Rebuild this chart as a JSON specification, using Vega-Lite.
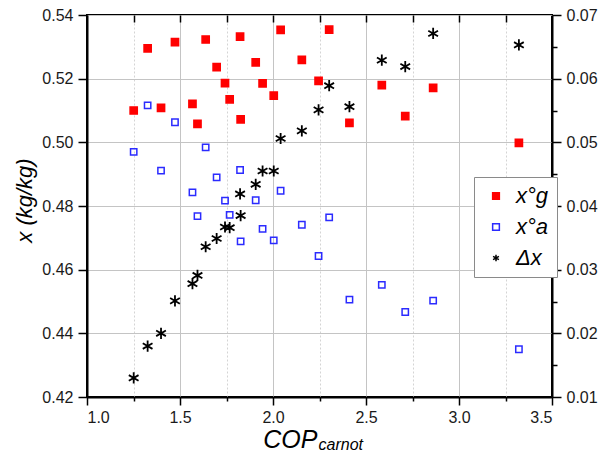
{
  "$schema": "https://vega.github.io/schema/vega-lite/v6.json",
  "width": 465,
  "height": 382,
  "autosize": {"type": "none"},
  "padding": {"left": 87, "top": 15, "right": 63, "bottom": 56},
  "background": "white",
  "config": {
    "font": "Liberation Sans",
    "view": {"stroke": "#000000", "strokeWidth": 2},
    "axis": {
      "labelFont": "Liberation Sans",
      "labelFontSize": 16,
      "labelColor": "#1a1a1a",
      "titleFont": "Liberation Sans",
      "titleColor": "#000000",
      "titleFontWeight": "normal",
      "titleFontStyle": "italic",
      "domainColor": "#000000",
      "domainWidth": 2,
      "tickColor": "#000000",
      "tickWidth": 1.5
    }
  },
  "data": {
    "values": [
      {"cop": 1.251, "xg": 0.5100, "xa": 0.4970, "dx": 0.0130},
      {"cop": 1.326, "xg": 0.5295, "xa": 0.5116, "dx": 0.0180},
      {"cop": 1.398, "xg": 0.5108, "xa": 0.4911, "dx": 0.0200},
      {"cop": 1.473, "xg": 0.5315, "xa": 0.5063, "dx": 0.0251},
      {"cop": 1.567, "xg": 0.5121, "xa": 0.4843, "dx": 0.0278},
      {"cop": 1.594, "xg": 0.5058, "xa": 0.4768, "dx": 0.0291},
      {"cop": 1.638, "xg": 0.5323, "xa": 0.4984, "dx": 0.0336},
      {"cop": 1.697, "xg": 0.5236, "xa": 0.4890, "dx": 0.0349},
      {"cop": 1.742, "xg": 0.5186, "xa": 0.4817, "dx": 0.0367},
      {"cop": 1.767, "xg": 0.5135, "xa": 0.4772, "dx": 0.0366},
      {"cop": 1.823, "xg": 0.5332, "xa": 0.4913, "dx": 0.0419},
      {"cop": 1.826, "xg": 0.5072, "xa": 0.4689, "dx": 0.0385},
      {"cop": 1.907, "xg": 0.5251, "xa": 0.4818, "dx": 0.0434},
      {"cop": 1.944, "xg": 0.5185, "xa": 0.4728, "dx": 0.0455},
      {"cop": 2.004, "xg": 0.5147, "xa": 0.4692, "dx": 0.0455},
      {"cop": 2.041, "xg": 0.5353, "xa": 0.4848, "dx": 0.0506},
      {"cop": 2.155, "xg": 0.5259, "xa": 0.4741, "dx": 0.0518},
      {"cop": 2.245, "xg": 0.5193, "xa": 0.4643, "dx": 0.0551},
      {"cop": 2.302, "xg": 0.5354, "xa": 0.4764, "dx": 0.0589},
      {"cop": 2.411, "xg": 0.5061, "xa": 0.4506, "dx": 0.0556},
      {"cop": 2.585, "xg": 0.5180, "xa": 0.4552, "dx": 0.0629},
      {"cop": 2.711, "xg": 0.5082, "xa": 0.4467, "dx": 0.0619},
      {"cop": 2.861, "xg": 0.5171, "xa": 0.4503, "dx": 0.0671},
      {"cop": 3.322, "xg": 0.4998, "xa": 0.4350, "dx": 0.0653}
    ]
  },
  "layer": [
    {
      "layer": [
        {
          "mark": {"type": "point", "size": 52, "strokeWidth": 1.5, "opacity": 1},
          "encoding": {
            "x": {
              "field": "cop",
              "type": "quantitative",
              "scale": {"domain": [1, 3.5], "nice": false, "zero": false},
              "axis": {
                "orient": "bottom",
                "values": [1, 1.25, 1.5, 1.75, 2, 2.25, 2.5, 2.75, 3, 3.25, 3.5],
                "labelExpr": "abs(datum.value * 2 - round(datum.value * 2)) > 0.01 ? '' : format(datum.value, '.1f')",
                "labelPadding": 4,
                "tickSize": {"condition": {"test": "abs(datum.value * 2 - round(datum.value * 2)) > 0.01", "value": 4}, "value": 8},
                "grid": true,
                "gridColor": {"condition": {"test": "abs(datum.value * 2 - round(datum.value * 2)) > 0.01", "value": "#d4d4d4"}, "value": "#c4c4c4"},
                "gridDash": {"condition": {"test": "abs(datum.value * 2 - round(datum.value * 2)) > 0.01", "value": [2, 2]}, "value": []},
                "gridWidth": 1,
                "title": "COP",
                "titleFontSize": 25,
                "titleAlign": "right",
                "titleBaseline": "alphabetic",
                "titleX": 230,
                "titleY": 50
              }
            },
            "y": {
              "field": "xg",
              "type": "quantitative",
              "scale": {"domain": [0.42, 0.54], "nice": false, "zero": false},
              "axis": {
                "orient": "left",
                "values": [0.42, 0.43, 0.44, 0.45, 0.46, 0.47, 0.48, 0.49, 0.5, 0.51, 0.52, 0.53, 0.54],
                "labelExpr": "abs(datum.value * 50 - round(datum.value * 50)) > 0.01 ? '' : format(datum.value, '.2f')",
                "labelPadding": 5,
                "tickSize": {"condition": {"test": "abs(datum.value * 50 - round(datum.value * 50)) > 0.01", "value": 5}, "value": 9},
                "grid": true,
                "gridColor": {"condition": {"test": "abs(datum.value * 50 - round(datum.value * 50)) > 0.01", "value": "#d4d4d4"}, "value": "#c4c4c4"},
                "gridDash": {"condition": {"test": "abs(datum.value * 50 - round(datum.value * 50)) > 0.01", "value": [2, 2]}, "value": []},
                "gridWidth": 1,
                "title": "x (kg/kg)",
                "titleFontSize": 22,
                "titleAngle": -90,
                "titleAlign": "center",
                "titleBaseline": "middle",
                "titleX": -63,
                "titleY": 185
              }
            },
            "fill": {"datum": "xg", "type": "nominal"},
            "stroke": {"datum": "xg", "type": "nominal"},
            "shape": {"datum": "xg", "type": "nominal"}
          }
        },
        {
          "mark": {"type": "point", "size": 40, "strokeWidth": 1.5, "opacity": 1},
          "encoding": {
            "x": {
              "field": "cop",
              "type": "quantitative",
              "axis": {
                "orient": "top",
                "values": [1.25, 1.5, 1.75, 2, 2.25, 2.5, 2.75, 3, 3.25],
                "domain": false,
                "labels": false,
                "grid": false,
                "tickSize": -7,
                "title": null
              }
            },
            "y": {"field": "xa", "type": "quantitative"},
            "fill": {"datum": "xa", "type": "nominal"},
            "stroke": {"datum": "xa", "type": "nominal"},
            "shape": {"datum": "xa", "type": "nominal"}
          }
        }
      ],
      "resolve": {"axis": {"x": "independent"}}
    },
    {
      "mark": {"type": "point", "size": 125, "strokeWidth": 1.8, "opacity": 1},
      "encoding": {
        "x": {
          "field": "cop",
          "type": "quantitative",
          "axis": {
            "orient": "bottom",
            "domain": false,
            "ticks": false,
            "labels": false,
            "grid": false,
            "title": "carnot",
            "titleFontSize": 16,
            "titleAlign": "left",
            "titleBaseline": "alphabetic",
            "titleX": 231,
            "titleY": 52
          }
        },
        "y": {
          "field": "dx",
          "type": "quantitative",
          "scale": {"domain": [0.01, 0.07], "nice": false, "zero": false},
          "axis": {
            "orient": "right",
            "values": [0.01, 0.015, 0.02, 0.025, 0.03, 0.035, 0.04, 0.045, 0.05, 0.055, 0.06, 0.065, 0.07],
            "labelExpr": "abs(datum.value * 100 - round(datum.value * 100)) > 0.01 ? '' : format(datum.value, '.2f')",
            "labelPadding": 5,
            "tickSize": {"condition": {"test": "abs(datum.value * 100 - round(datum.value * 100)) > 0.01", "value": 5}, "value": 9},
            "grid": false,
            "title": "Δx",
            "titleFontSize": 24,
            "titleAngle": 90,
            "titleAlign": "center",
            "titleBaseline": "middle",
            "titleX": 72,
            "titleY": 190
          }
        },
        "fill": {
          "datum": "dx",
          "type": "nominal",
          "scale": {"domain": ["xg", "xa", "dx"], "range": ["#ff0000", "transparent", "#000000"]},
          "legend": {
            "orient": "none",
            "legendX": 387,
            "legendY": 162,
            "title": null,
            "fillColor": "#ffffff",
            "strokeColor": "#8a8a8a",
            "padding": 8,
            "rowPadding": 9,
            "symbolSize": 45,
            "symbolStrokeWidth": 1.5,
            "symbolOffset": 3,
            "labelOffset": 9,
            "labelFont": "Liberation Sans",
            "labelFontSize": 22,
            "labelFontStyle": "italic",
            "labelColor": "#000000",
            "labelExpr": "datum.value == 'xg' ? 'x°g' : datum.value == 'xa' ? 'x°a' : 'Δx'"
          }
        },
        "stroke": {
          "datum": "dx",
          "type": "nominal",
          "scale": {"domain": ["xg", "xa", "dx"], "range": ["#ff0000", "#2b2bff", "#000000"]}
        },
        "shape": {
          "datum": "dx",
          "type": "nominal",
          "scale": {"domain": ["xg", "xa", "dx"], "range": ["square", "square", "M0,-1L0,1M-0.87,-0.5L0.87,0.5M-0.87,0.5L0.87,-0.5"]}
        }
      }
    }
  ],
  "resolve": {
    "scale": {"y": "independent"},
    "axis": {"x": "independent", "y": "independent"}
  }
}
